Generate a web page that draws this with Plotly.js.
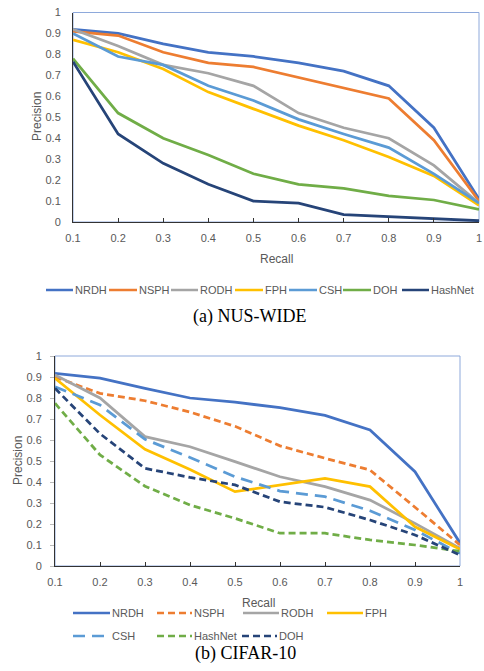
<!DOCTYPE html>
<html>
<head>
<meta charset="utf-8">
<script src="https://cdn.plot.ly/plotly-3.0.1.min.js"></script>
<style>html,body{margin:0;padding:0;background:#fff;}#chart{width:484px;height:671px;}</style>
</head>
<body>
<div id="chart"></div>
<script>
// ---------- data ----------
const recall = [0.1, 0.2, 0.3, 0.4, 0.5, 0.6, 0.7, 0.8, 0.9, 1.0];
const xTickText = ['0.1','0.2','0.3','0.4','0.5','0.6','0.7','0.8','0.9','1'];
const yTickVals = [0, 0.1, 0.2, 0.3, 0.4, 0.5, 0.6, 0.7, 0.8, 0.9, 1];
const yTickText = ['0','0.1','0.2','0.3','0.4','0.5','0.6','0.7','0.8','0.9','1'];

// (a) NUS-WIDE
const nusNames = ['NRDH','NSPH','RODH','FPH','CSH','DOH','HashNet'];
const nusNRDH    = [0.92, 0.90, 0.85, 0.81, 0.79, 0.76, 0.72, 0.65, 0.45, 0.11];
const nusNSPH    = [0.91, 0.89, 0.81, 0.76, 0.74, 0.69, 0.64, 0.59, 0.39, 0.10];
const nusRODH    = [0.92, 0.84, 0.75, 0.71, 0.65, 0.52, 0.45, 0.40, 0.27, 0.09];
const nusFPH     = [0.87, 0.81, 0.73, 0.62, 0.54, 0.46, 0.39, 0.31, 0.22, 0.08];
const nusCSH     = [0.90, 0.79, 0.75, 0.65, 0.58, 0.49, 0.42, 0.355, 0.23, 0.09];
const nusDOH     = [0.78, 0.52, 0.40, 0.32, 0.23, 0.18, 0.16, 0.125, 0.105, 0.06];
const nusHashNet = [0.765, 0.42, 0.28, 0.18, 0.10, 0.09, 0.035, 0.025, 0.015, 0.006];

// (b) CIFAR-10
const cifNames = ['NRDH','NSPH','RODH','FPH','CSH','HashNet','DOH'];
const cifNRDH    = [0.917, 0.895, 0.846, 0.80, 0.78, 0.754, 0.717, 0.648, 0.449, 0.11];
const cifNSPH    = [0.90, 0.822, 0.787, 0.733, 0.665, 0.572, 0.513, 0.457, 0.28, 0.10];
const cifRODH    = [0.91, 0.80, 0.616, 0.568, 0.497, 0.425, 0.378, 0.314, 0.203, 0.084];
const cifFPH     = [0.894, 0.719, 0.556, 0.46, 0.354, 0.386, 0.417, 0.378, 0.187, 0.08];
const cifCSH     = [0.854, 0.767, 0.603, 0.517, 0.425, 0.357, 0.33, 0.263, 0.171, 0.06];
const cifHashNet = [0.775, 0.529, 0.38, 0.29, 0.227, 0.156, 0.156, 0.124, 0.10, 0.07];
const cifDOH     = [0.846, 0.63, 0.465, 0.422, 0.386, 0.306, 0.28, 0.219, 0.148, 0.052];

// ---------- styles ----------
const nusValues = [nusNRDH, nusNSPH, nusRODH, nusFPH, nusCSH, nusDOH, nusHashNet];
const nusColors = ['#4472C4','#ED7D31','#A5A5A5','#FFC000','#5B9BD5','#70AD47','#264478'];
const cifValues = [cifNRDH, cifNSPH, cifRODH, cifFPH, cifCSH, cifHashNet, cifDOH];
const cifColors = ['#4472C4','#ED7D31','#A5A5A5','#FFC000','#5B9BD5','#70AD47','#264478'];
const cifDash   = ['solid','7px,4px','solid','solid','12px,7px','7px,4px','7px,4px'];

const W = 484, H = 671;
const px = v => v / W;
const py = v => 1 - v / H;
const FONT = 'Liberation Sans, Arial, sans-serif';
const GRAY = '#595959';

const traces = [];
nusValues.forEach((vals, i) => {
  traces.push({x: recall, y: vals, xaxis: 'x', yaxis: 'y', mode: 'lines', name: nusNames[i],
    line: {color: nusColors[i], width: 2.75}, hoverinfo: 'x+y+name'});
});
cifValues.forEach((vals, i) => {
  traces.push({x: recall, y: vals, xaxis: 'x2', yaxis: 'y2', mode: 'lines', name: cifNames[i],
    line: {color: cifColors[i], width: 2.75, dash: cifDash[i]}, hoverinfo: 'x+y+name'});
});

function xAxis(domain, anchor) {
  return {domain: domain, anchor: anchor, range: [0.1, 1], tickvals: recall, ticktext: xTickText,
    showgrid: false, zeroline: false, showline: true, linecolor: '#333', linewidth: 1,
    ticks: 'inside', ticklen: 4, tickcolor: '#333', ticklabelstandoff: 6,
    tickfont: {family: FONT, size: 11, color: GRAY}, fixedrange: true};
}
function yAxis(domain, anchor, tl) {
  return {domain: domain, anchor: anchor, range: [0, 1], tickvals: yTickVals, ticktext: yTickText,
    showgrid: false, zeroline: false, showline: true, linecolor: '#333', linewidth: 1,
    ticks: tl ? 'outside' : '', ticklen: tl, tickcolor: '#bbb', ticklabelstandoff: tl ? 6 : 9,
    tickfont: {family: FONT, size: 11, color: GRAY}, fixedrange: true};
}

const shapes = [
  {type: 'rect', xref: 'x domain', yref: 'y domain', x0: 0, x1: 1, y0: 0, y1: 1,
   line: {color: '#8EA9DB', width: 1}, layer: 'below'},
  {type: 'rect', xref: 'x2 domain', yref: 'y2 domain', x0: 0, x1: 1, y0: 0, y1: 1,
   line: {color: '#8EA9DB', width: 1}, layer: 'below'}
];
const annotations = [];

function legendItem(name, color, dash, x0, x1, tx, y) {
  shapes.push({type: 'line', xref: 'paper', yref: 'paper', x0: px(x0), x1: px(x1), y0: py(y), y1: py(y),
    line: {color: color, width: 2.5, dash: dash}});
  annotations.push({xref: 'paper', yref: 'paper', x: px(tx), y: py(y), xanchor: 'left', yanchor: 'middle',
    text: name, showarrow: false, borderpad: 0, font: {family: FONT, size: 11, color: GRAY}});
}

// top legend positions [lineStart, lineEnd, textStart]
const nusLegPos = [[46,73,74],[109,137,138],[171,198,199],[235,263,264],[289,317,318],[343,371,372],[402,429,430]];
nusNames.forEach((n, i) => legendItem(n, nusColors[i], 'solid', nusLegPos[i][0], nusLegPos[i][1], nusLegPos[i][2], 290));

// bottom legend positions [lineStart, lineEnd, textStart, y]
const cifLegPos = [[73,110,111,613],[157,192,193,613],[243,279,280,613],[327,363,364,613],
                   [73,110,111,636],[157,192,193,636],[242,277,278,636]];
cifNames.forEach((n, i) => legendItem(n, cifColors[i], cifDash[i], cifLegPos[i][0], cifLegPos[i][1], cifLegPos[i][2], cifLegPos[i][3]));

// titles
function label(text, x, y, opts) {
  annotations.push(Object.assign({xref: 'paper', yref: 'paper', x: px(x), y: py(y), xanchor: 'center', yanchor: 'middle',
    text: text, showarrow: false, borderpad: 0, font: {family: FONT, size: 12, color: GRAY}}, opts || {}));
}
label('Recall', 276, 259);
label('Precision', 37, 117, {textangle: -90});
label('Recall', 258, 603);
label('Precision', 18, 461, {textangle: -90});
label('(a) NUS-WIDE', 250, 317, {font: {family: 'Liberation Serif, Times New Roman, serif', size: 18, color: '#000'}});
label('(b) CIFAR-10', 245, 653, {font: {family: 'Liberation Serif, Times New Roman, serif', size: 18, color: '#000'}});

const layout = {
  width: W, height: H, margin: {l: 0, r: 0, t: 0, b: 0},
  paper_bgcolor: '#fff', plot_bgcolor: '#fff', showlegend: false,
  xaxis: xAxis([73 / W, 479 / W], 'y'),
  yaxis: yAxis([1 - 222 / H, 1 - 12.5 / H], 'x', 0),
  xaxis2: xAxis([55 / W, 460 / W], 'y2'),
  yaxis2: yAxis([1 - 566 / H, 1 - 356 / H], 'x2', 4),
  shapes: shapes, annotations: annotations
};

Plotly.newPlot('chart', traces, layout, {displayModeBar: false, staticPlot: true});
</script>
</body>
</html>
